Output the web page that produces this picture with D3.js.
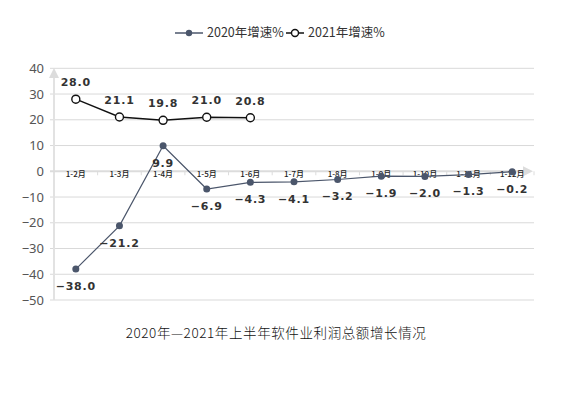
<!DOCTYPE html>
<html>
<head>
<meta charset="utf-8">
<script src="https://cdn.jsdelivr.net/npm/d3@7"></script>
<style>
  body { margin: 0; background: #fff; }
  svg { display: block; }
</style>
</head>
<body>
<svg id="chart" width="567" height="397"></svg>
<script>
const months = ["1-2月", "1-3月", "1-4月", "1-5月", "1-6月", "1-7月", "1-8月", "1-9月", "1-10月", "1-11月", "1-12月"];
const growth2020 = [-38.0, -21.2, 9.9, -6.9, -4.3, -4.1, -3.2, -1.9, -2.0, -1.3, -0.2];
const growth2021 = [28.0, 21.1, 19.8, 21.0, 20.8];
const yTicks = [40, 30, 20, 10, 0, -10, -20, -30, -40, -50];
const seriesNames = ["2020年增速%", "2021年增速%"];
const title = "2020年—2021年上半年软件业利润总额增长情况";

const svg = d3.select("#chart");
const grey = "#d9d9d9";
const c2020 = "#4b566b";
const c2021 = "#111";

const x = d3.scaleBand().domain(months).range([54, 534]);
const y = d3.scaleLinear().domain([-50, 40]).range([300, 68.3]);
const cx = m => x(m) + x.bandwidth() / 2;

const defs = svg.append("defs");
defs.append("marker")
  .attr("id", "arrow")
  .attr("viewBox", "0 0 10 10")
  .attr("refX", 5).attr("refY", 5)
  .attr("markerWidth", 5).attr("markerHeight", 5)
  .attr("orient", "auto")
  .append("path").attr("d", "M0,0L10,5L0,10Z").attr("fill", "#dcdcdc");

// gridlines
svg.append("g")
  .selectAll("line")
  .data(yTicks.filter(d => d !== 0))
  .join("line")
  .attr("x1", 50).attr("x2", 534)
  .attr("y1", d => y(d)).attr("y2", d => y(d))
  .attr("stroke", grey).attr("stroke-width", 1);

// y axis
const yAxis = svg.append("g")
  .attr("transform", "translate(54,0)")
  .call(d3.axisLeft(y).tickValues(yTicks).tickSize(0).tickPadding(10).tickFormat(d3.format("d")));
yAxis.select(".domain").remove();
yAxis.selectAll("text")
  .attr("font-family", "Noto Sans, sans-serif")
  .attr("font-size", 13)
  .attr("fill", "#555");

svg.append("line")
  .attr("x1", 54).attr("x2", 54)
  .attr("y1", 300).attr("y2", 73)
  .attr("stroke", "#e2e2e2").attr("stroke-width", 2)
  .attr("marker-end", "url(#arrow)");

// x axis at zero
svg.append("line")
  .attr("x1", 50).attr("x2", 528)
  .attr("y1", y(0)).attr("y2", y(0))
  .attr("stroke", "#dcdcdc").attr("stroke-width", 2)
  .attr("marker-end", "url(#arrow)");

svg.append("g")
  .selectAll("line")
  .data(months)
  .join("line")
  .attr("x1", d => x(d) + x.bandwidth()).attr("x2", d => x(d) + x.bandwidth())
  .attr("y1", y(0)).attr("y2", y(0) + 4)
  .attr("stroke", "#dcdcdc");

svg.append("g")
  .selectAll("text")
  .data(months)
  .join("text")
  .attr("x", d => cx(d))
  .attr("y", y(0) + 6)
  .attr("text-anchor", "middle")
  .attr("font-family", "Noto Sans CJK SC, sans-serif")
  .attr("font-weight", 500)
  .attr("font-size", 8)
  .attr("fill", "#222")
  .text(d => d);

// 2020 series
const line = d3.line().x((d, i) => cx(months[i])).y(d => y(d));

svg.append("path")
  .datum(growth2020)
  .attr("d", line)
  .attr("fill", "none")
  .attr("stroke", c2020)
  .attr("stroke-width", 1.2);

svg.append("g")
  .selectAll("circle")
  .data(growth2020)
  .join("circle")
  .attr("cx", (d, i) => cx(months[i]))
  .attr("cy", d => y(d))
  .attr("r", 3.5)
  .attr("fill", c2020);

// 2021 series
svg.append("path")
  .datum(growth2021)
  .attr("d", line)
  .attr("fill", "none")
  .attr("stroke", c2021)
  .attr("stroke-width", 1.4);

svg.append("g")
  .selectAll("circle")
  .data(growth2021)
  .join("circle")
  .attr("cx", (d, i) => cx(months[i]))
  .attr("cy", d => y(d))
  .attr("r", 4)
  .attr("fill", "#fff")
  .attr("stroke", c2021)
  .attr("stroke-width", 1.4);

// data labels
const fmt = d => (d < 0 ? "−" : "") + Math.abs(d).toFixed(1);
const labelStyle = sel => sel
  .attr("text-anchor", "middle")
  .attr("dy", "0.35em")
  .attr("font-family", "DejaVu Sans, sans-serif")
  .attr("font-weight", "bold")
  .attr("font-size", 11)
  .attr("letter-spacing", 0.8)
  .attr("fill", "#333");

svg.append("g")
  .selectAll("text")
  .data(growth2020)
  .join("text")
  .attr("x", (d, i) => cx(months[i]))
  .attr("y", d => y(d) + 17)
  .call(labelStyle)
  .text(fmt);

svg.append("g")
  .selectAll("text")
  .data(growth2021)
  .join("text")
  .attr("x", (d, i) => cx(months[i]))
  .attr("y", d => y(d) - 17)
  .call(labelStyle)
  .text(fmt);

// legend
const legend = svg.append("g").attr("font-family", "Noto Sans CJK SC, sans-serif").attr("font-size", 12.5);
const lg1 = legend.append("g").attr("transform", "translate(175,33)");
lg1.append("line").attr("x1", 0).attr("x2", 28).attr("stroke", c2020).attr("stroke-width", 1.5);
lg1.append("circle").attr("cx", 14).attr("r", 3.2).attr("fill", c2020);
lg1.append("text").attr("x", 32).attr("dy", "0.35em").attr("fill", "#333").text(seriesNames[0]);

const lg2 = legend.append("g").attr("transform", "translate(286,33)");
lg2.append("line").attr("x1", 0).attr("x2", 18).attr("stroke", c2021).attr("stroke-width", 1.5);
lg2.append("circle").attr("cx", 9).attr("r", 3.5).attr("fill", "#fff").attr("stroke", c2021).attr("stroke-width", 1.4);
lg2.append("text").attr("x", 22).attr("dy", "0.35em").attr("fill", "#333").text(seriesNames[1]);

// title
svg.append("text")
  .attr("x", 276)
  .attr("y", 333)
  .attr("dy", "0.35em")
  .attr("text-anchor", "middle")
  .attr("font-family", "Noto Sans CJK SC, sans-serif")
  .attr("font-weight", 300)
  .attr("font-size", 13.5)
  .attr("letter-spacing", 0.6)
  .attr("fill", "#111")
  .text(title);
</script>
</body>
</html>
